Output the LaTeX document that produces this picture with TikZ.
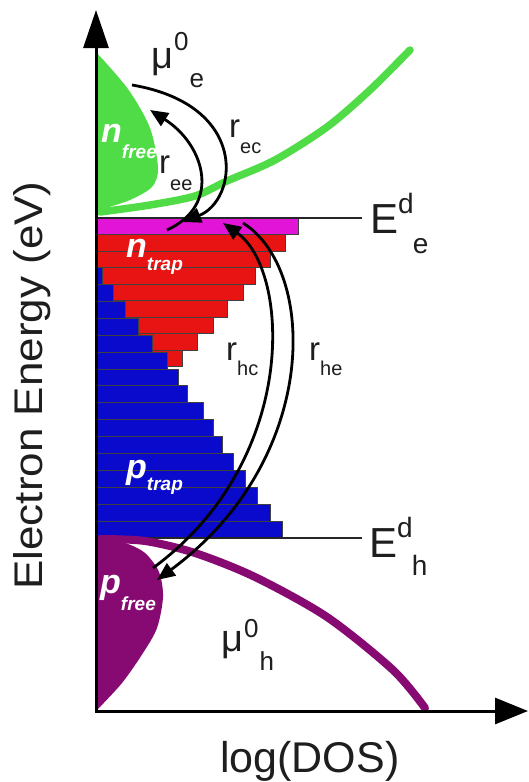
\documentclass[tikz,border=0pt]{standalone}
\usepackage{fontspec}
\setmainfont{Liberation Sans}
\usepackage{graphicx}
\usetikzlibrary{arrows.meta}
\definecolor{gfree}{RGB}{80,220,70}
\definecolor{pinkbar}{RGB}{225,20,215}
\definecolor{redbar}{RGB}{232,20,20}
\definecolor{bluebar}{RGB}{10,10,205}
\definecolor{pfree}{RGB}{135,10,115}
\definecolor{txt}{RGB}{30,30,30}
\newcommand{\fs}[1]{\fontsize{#1}{#1}\selectfont}
\begin{document}
\begin{tikzpicture}[x=1pt,y=-1pt,
  bar/.style={draw=black!75,line width=0.8pt},
  axisline/.style={line width=3pt},
  level/.style={line width=1.2pt,draw=black!85},
  rate/.style={line width=2.8pt,-{Triangle[length=18pt,width=15pt]}},
  lbl/.style={inner sep=0pt,anchor=base west,text=txt},
  carrier/.style={inner sep=0pt,anchor=base west,text=white,font=\bfseries\itshape}
]
\useasboundingbox[fill=white] (0,0) rectangle (528,782);
% bars
\draw[bar,fill=pinkbar] (97,218) rectangle (298,234.5);
\foreach \r [count=\i from 0] in {285,270,255,243,227,213,197,182}
  \draw[bar,fill=redbar] (97,{234.5+16.5*\i}) rectangle (\r,{251+16.5*\i});
\foreach \r [count=\i from 0] in {102,113,125,138,152,167,178,187,203,213,222,233,245,257,270,282}
  \draw[bar,fill=bluebar] (97,{267.5+16.9*\i}) rectangle (\r,{284.4+16.9*\i});
% levels
\coordinate (EeA) at (96,218);
\coordinate (EeB) at (362,218);
\coordinate (EhA) at (96,538);
\coordinate (EhB) at (362,538);
\draw[level] (EeA) -- (EeB);
\draw[level] (EhA) -- (EhB);
% free electrons
\fill[gfree] (96,52) plot[smooth] coordinates {(96,52) (128,89) (150,128) (158,168) (152,187) (130,200) (106,208) (96,212)} -- cycle;
\draw[gfree,line width=7.5pt,line cap=round] plot[smooth] coordinates {(100,212) (150,205) (195,196) (227,181) (275,160) (327,127) (370,90) (410,50)};
% free holes
\fill[pfree] (96,538) plot[smooth] coordinates {(96,538) (125,543) (145,553) (159,572) (163,597) (157,628) (143,653) (122,683) (97,710)} -- cycle;
\draw[pfree,line width=8pt,line cap=round] plot[smooth] coordinates {(100,539) (145,541) (195,553) (255,577) (327,617) (393,670) (425,708)};
% axes
\coordinate (O) at (96,711);
\coordinate (Ytip) at (96,10);
\coordinate (Xtip) at (528,711);
\draw[axisline,-{Triangle[length=38pt,width=25pt]}] (O) -- (Ytip);
\draw[axisline,-{Triangle[length=33pt,width=26pt]}] (94.5,711) -- (Xtip);
% rate arrows
\coordinate (ecT) at (132,85);  \coordinate (ecH) at (183,222);
\coordinate (eeT) at (167,230); \coordinate (eeH) at (150,110);
\coordinate (hcT) at (153,568); \coordinate (hcH) at (223,223);
\coordinate (heT) at (243,223); \coordinate (heH) at (157,580);
\draw[rate] (ecT) .. controls (250,105) and (238,200) .. (ecH);
\draw[rate] (eeT) .. controls (222,205) and (205,145) .. (eeH);
\draw[rate] (hcT) .. controls (300,460) and (290,270) .. (hcH);
\draw[rate] (heT) .. controls (318,270) and (320,460) .. (heH);
% labels
\node[lbl] (mue) at (151,68) {\fs{38}μ\kern1pt\raisebox{18pt}{\fs{26}0}\kern1pt\raisebox{-19pt}{\fs{26}e}};
\node[lbl] (muh) at (221,651) {\fs{38}μ\kern1pt\raisebox{14pt}{\fs{26}0}\kern1pt\raisebox{-19pt}{\fs{26}h}};
\node[lbl] (rec) at (229,137) {\fs{33}r\raisebox{-16pt}{\fs{20}ec}};
\node[lbl] (ree) at (159,173) {\fs{33}r\raisebox{-17pt}{\fs{20}ee}};
\node[lbl] (rhc) at (226,360) {\fs{33}r\raisebox{-15pt}{\fs{20}hc}};
\node[lbl] (rhe) at (309,360) {\fs{33}r\raisebox{-15pt}{\fs{20}he}};
\node[lbl] (Eed) at (370,233) {\fs{42}E\raisebox{20pt}{\fs{28}d}\kern-1pt\raisebox{-20pt}{\fs{28}e}};
\node[lbl] (Ehd) at (369,557) {\fs{42}E\raisebox{20pt}{\fs{28}d}\kern-1pt\raisebox{-18pt}{\fs{28}h}};
\node[carrier] (nfree) at (101,142) {\fs{34}n\raisebox{-16pt}{\fs{19}free}};
\node[carrier] (ntrap) at (126,257) {\fs{34}n\raisebox{-13.5pt}{\fs{19}trap}};
\node[carrier] (ptrap) at (126,478) {\fs{34}p\raisebox{-12.5pt}{\fs{19}trap}};
\node[carrier] (pfreeL) at (100,593) {\fs{34}p\raisebox{-17pt}{\fs{19}free}};
\node[lbl,rotate=90] (ylab) at (42,590) {\scalebox{1.1}[1]{\fs{40}Electron Energy (eV)}};
\node[lbl] (xlab) at (220,772) {\fs{43}log(DOS)};
\end{tikzpicture}
\end{document}
